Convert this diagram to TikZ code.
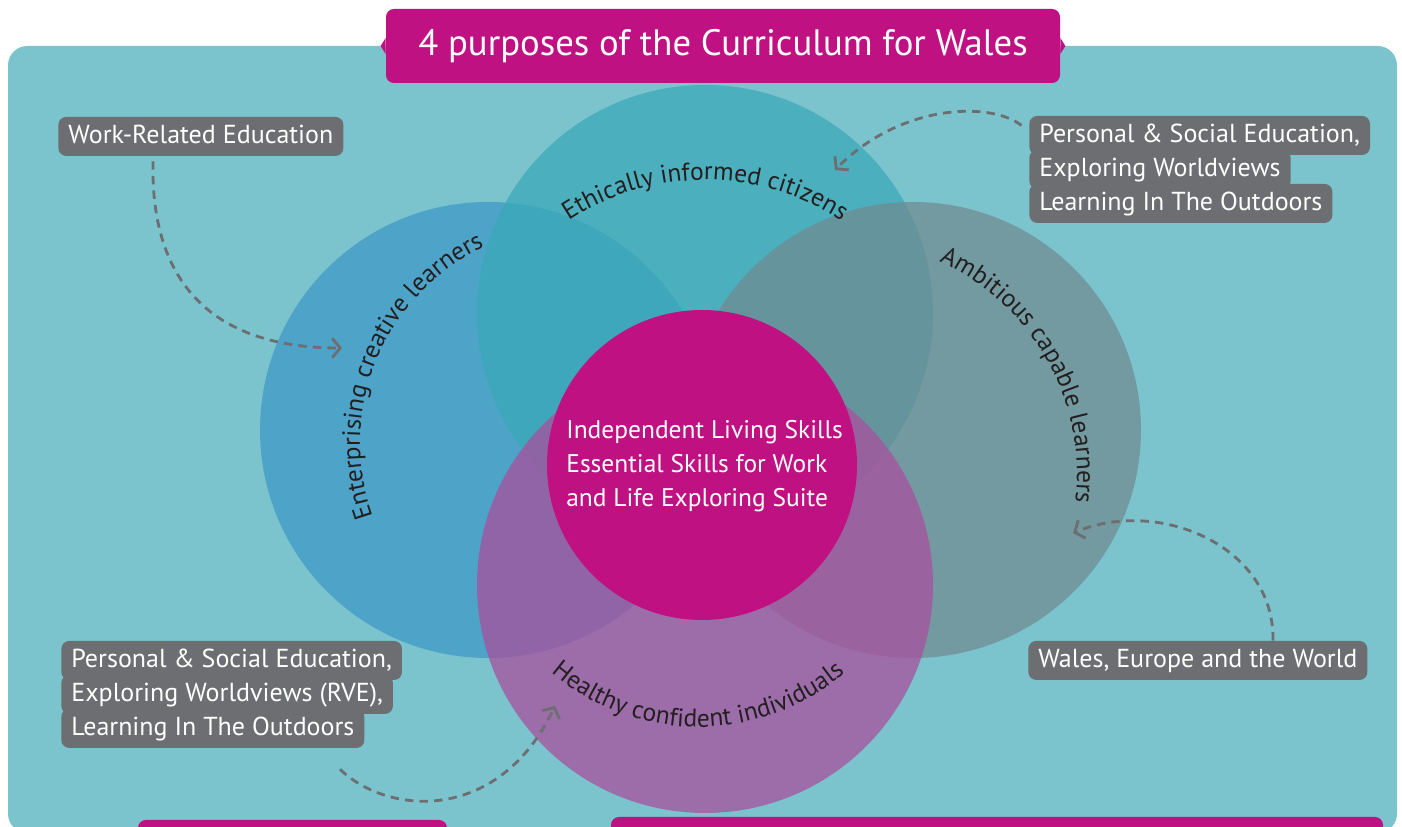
\documentclass[tikz,border=0pt]{standalone}
\usepackage{fontspec}
\setmainfont{PT Sans}
\usetikzlibrary{arrows.meta,decorations.text}

\definecolor{cwTeal}{HTML}{7BC4CD}
\definecolor{cwMagenta}{HTML}{BF1181}
\definecolor{cwGrey}{HTML}{6D6E71}
\definecolor{cwBlue}{RGB}{64,152,200}
\definecolor{cwSea}{RGB}{59,169,184}
\definecolor{cwSlate}{RGB}{112,140,145}
\definecolor{cwPurple}{RGB}{168,80,158}
\definecolor{cwInk}{HTML}{231F20}

\newcommand{\tagfont}{\fontsize{14.8}{19.3}\selectfont}
\newcommand{\corefont}{\fontsize{14.5}{19.3}\selectfont}
\newcommand{\titlefont}{\fontsize{20.9}{25}\selectfont}
\newcommand{\arcfont}{\fontsize{14.5}{17}\selectfont}

\begin{document}
\begin{tikzpicture}[scale=0.2]
		\tikzstyle{every node}+=[inner sep=0pt]
		\tikzstyle{tag}=[fill=cwGrey, text=white, rounded corners=4.5pt, anchor=base west, inner xsep=5.7pt, text height=15.4pt, text depth=6.8pt, font=\tagfont]
		\tikzstyle{hint}=[cwGrey, line width=1.6pt, dash pattern=on 4.8pt off 3.5pt, -{Straight Barb[length=4.5pt,width=11pt]}]
		\tikzstyle{bubble}=[fill opacity=0.75]
		\useasboundingbox (0,0) rectangle (140.2,82.7);
		\fill [cwTeal, rounded corners=11pt] (0.8,-0.6) rectangle (139.7,78.1);
		% the four purposes
		\fill [cwBlue, bubble] (48.8,39.7) circle (22.8);
		\fill [cwSea, bubble] (70.5,51.4) circle (22.8);
		\fill [cwSlate, bubble] (91.3,39.7) circle (22.8);
		\fill [cwPurple, bubble] (70.5,24.2) circle (22.8);
		\fill [cwMagenta] (70.2,36.2) circle (15.5);
		\node (core) [text=white, align=left, anchor=west, font=\corefont] at (56.6,36.1) {Independent Living Skills\\Essential Skills for Work\\and Life Exploring Suite};
		\path [decorate, decoration={text along path, text align=center, text color=cwInk, text={|\arcfont|Ethically informed citizens}}] (70.5,39.9) ++(130:24.8) arc [start angle=130, end angle=50, radius=24.8];
		\path [decorate, decoration={text along path, text align=center, text color=cwInk, text={|\arcfont|Enterprising creative learners}}] (57.7,38.4) ++(205:21.7) arc [start angle=205, end angle=110, radius=21.7];
		\path [decorate, decoration={text along path, text align=center, text color=cwInk, text={|\arcfont|Ambitious capable learners}}] (84.3,35.2) ++(72:23.4) arc [start angle=72, end angle=-13, radius=23.4];
		\path [decorate, decoration={text along path, text align=center, text color=cwInk, text={|\arcfont|Healthy confident individuals}}] (69.8,32.6) ++(220:22.6) arc [start angle=220, end angle=320, radius=22.6];
		% title
		\node (title) [fill=cwMagenta, text=white, rounded corners=4.5pt, minimum width=13.48cm, minimum height=1.48cm, font=\titlefont] at (72.3,78.1) {4 purposes of the Curriculum for Wales};
		\fill [cwMagenta] (title.west) ++(0,0.8) -- ++(-0.5,-0.8) -- ++(0.5,-0.8);
		\fill [cwMagenta] (title.east) ++(0,0.8) -- ++(0.5,-0.8) -- ++(-0.5,-0.8);
		% boxes cut off at the bottom
		\fill [cwMagenta, rounded corners=4.5pt] (13.8,-3) rectangle (44.7,0.7);
		\fill [cwMagenta, rounded corners=4.5pt] (61.1,-3) rectangle (138.3,1.0);
		% labels
		\node (wre) [tag] at (5.8,68.3) {Work-Related Education};
		\node (pse3) [tag] at (102.9,61.6) {Learning In The Outdoors};
		\node (pse2) [tag] at (102.9,65.0) {Exploring Worldviews};
		\node (pse1) [tag] at (102.9,68.4) {Personal \& Social Education,};
		\node (psb3) [tag] at (6.1,9.1) {Learning In The Outdoors};
		\node (psb2) [tag] at (6.1,12.5) {Exploring Worldviews (RVE),};
		\node (psb1) [tag] at (6.1,15.9) {Personal \& Social Education,};
		\node (wew) [tag] at (102.8,15.9) {Wales, Europe and the World};
		% arrows
		\coordinate (h1) at (34.2,47.9);
		\coordinate (h2) at (83.5,65.7);
		\coordinate (h3) at (107.3,29.4);
		\coordinate (h4) at (55.5,12.1);
		\draw [hint] ([xshift=9.5cm,yshift=-0.5cm]wre.south west) .. controls (15.0,53.7) and (22,47.9) .. (h1);
		\draw [hint] ([xshift=-0.75cm,yshift=1cm]pse1.west) .. controls (99,72.6) and (90,72.3) .. (h2);
		\draw [hint] ([xshift=24.5cm]wew.north west) .. controls (127.5,28) and (116,33) .. (h3);
		\draw [hint] ([xshift=27.9cm,yshift=-2.1cm]psb3.south west) .. controls (39,1.0) and (50,0.5) .. (h4);
\end{tikzpicture}
\end{document}
